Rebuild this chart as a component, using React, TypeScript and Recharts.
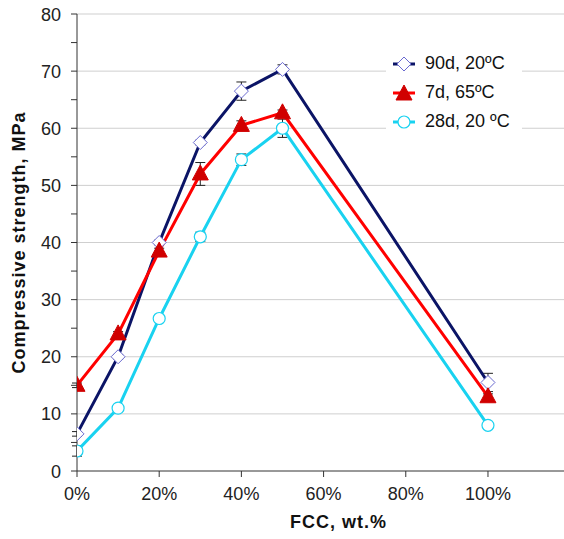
import React from "react";
import { LineChart, Line, XAxis, YAxis, ReferenceLine, ErrorBar, Legend, Label } from "recharts";

const fcc = [0, 0.1, 0.2, 0.3, 0.4, 0.5, 1.0];
const d90 = [6.5, 20, 40, 57.5, 66.5, 70.3, 15.5];
const d90Err = [0.4, 0.4, 0.4, 0.4, 1.6, 0.8, 1.6];
const d7 = [15, 24, 38.5, 52, 60.5, 62.7, 13];
const d7Err = [0.4, 0.4, 0.5, 2, 0.8, 0.5, 0.5];
const d28 = [3.5, 11, 26.7, 41, 54.5, 60, 8];
const d28Err = [0.9, 0.3, 0.3, 0.8, 1, 1.6, 0.3];
const xTicks = [0, 0.2, 0.4, 0.6, 0.8, 1.0];
const yTicks = [0, 5, 10, 15, 20, 25, 30, 35, 40, 45, 50, 55, 60, 65, 70, 75, 80];
const gridValues = [10, 20, 30, 40, 50, 60, 70, 80];
const seriesNames = ["90d, 20ºC", "7d, 65ºC", "28d, 20 ºC"];

const data = fcc.map((x, i) => ({
  x,
  d90: d90[i],
  d90Err: d90Err[i],
  d7: d7[i],
  d7Err: d7Err[i],
  d28: d28[i],
  d28Err: d28Err[i],
}));

const NAVY = "#0b1466";
const RED = "#ff0000";
const CYAN = "#19d2f0";
const FONT = "Liberation Sans, Arial, sans-serif";

const Diamond = (props: any) => {
  const { cx, cy } = props;
  if (cx == null || cy == null) return null;
  const s = 7;
  return (
    <polygon
      points={`${cx},${cy - s} ${cx + s},${cy} ${cx},${cy + s} ${cx - s},${cy}`}
      fill="#ffffff"
      stroke="#6a6ad0"
      strokeWidth={1}
    />
  );
};

const Triangle = (props: any) => {
  const { cx, cy } = props;
  if (cx == null || cy == null) return null;
  return (
    <polygon
      points={`${cx},${cy - 9} ${cx + 8},${cy + 6} ${cx - 8},${cy + 6}`}
      fill="#d00000"
      stroke="#d00000"
      strokeWidth={1}
    />
  );
};

const Circle = (props: any) => {
  const { cx, cy } = props;
  if (cx == null || cy == null) return null;
  return <circle cx={cx} cy={cy} r={6} fill="#ffffff" stroke={CYAN} strokeWidth={1.2} />;
};

const YTick = (props: any) => {
  const { x, y, payload } = props;
  if (payload.value % 10 !== 0) return null;
  return (
    <text x={x - 8} y={y} dy={6.5} textAnchor="end" fontSize={18} fill="#222" fontFamily={FONT}>
      {payload.value}
    </text>
  );
};

const legendMarkers = [
  (cx: number, cy: number) => <Diamond cx={cx} cy={cy} />,
  (cx: number, cy: number) => <Triangle cx={cx} cy={cy + 1} />,
  (cx: number, cy: number) => <Circle cx={cx} cy={cy} />,
];
const legendColors = [NAVY, RED, CYAN];

const LegendBox = () => (
  <div style={{ background: "#fff", padding: "3px 0", fontFamily: FONT, fontSize: 18, color: "#111" }}>
    {seriesNames.map((n, i) => (
      <div key={n} style={{ display: "flex", alignItems: "center", height: 29 }}>
        <svg width={34} height={20} style={{ marginLeft: 5 }}>
          <line x1={2} x2={24} y1={10} y2={10} stroke={legendColors[i]} strokeWidth={3} />
          {legendMarkers[i](13, 10)}
        </svg>
        <span style={{ marginLeft: 0 }}>{n}</span>
      </div>
    ))}
  </div>
);

export default function App() {
  return (
    <div style={{ position: "absolute", left: 0, top: 0, width: 564, height: 539, background: "#fff" }}>
      <LineChart width={564} height={539} data={data} margin={{ top: 14, right: 0, bottom: 0, left: 0 }}>
        {gridValues.map((v) => (
          <ReferenceLine key={v} y={v} stroke="#cfcfcf" strokeWidth={1} />
        ))}
        <XAxis
          dataKey="x"
          type="number"
          domain={[0, 1.185]}
          allowDataOverflow
          ticks={xTicks}
          tickFormatter={(v: number) => `${Math.round(v * 100)}%`}
          tick={{ fontSize: 18, fill: "#222", fontFamily: FONT }}
          stroke="#333"
          tickSize={6}
          tickMargin={10}
          height={68}
        >
          <Label
            value="FCC, wt.%"
            position="insideBottom"
            offset={11}
            dx={18}
            style={{ fontSize: 18, fontWeight: "bold", fill: "#111", fontFamily: FONT, letterSpacing: 1 }}
          />
        </XAxis>
        <YAxis
          type="number"
          domain={[0, 80]}
          ticks={yTicks}
          interval={0}
          tick={<YTick />}
          stroke="#333"
          tickSize={6}
          width={77}
        >
          <Label
            value="Compressive strength, MPa"
            angle={-90}
            position="insideLeft"
            offset={19}
            style={{ textAnchor: "middle", fontSize: 18, fontWeight: "bold", fill: "#111", fontFamily: FONT, letterSpacing: 1 }}
          />
        </YAxis>
        <Legend
          layout="horizontal"
          verticalAlign="middle"
          align="center"
          content={<LegendBox />}
          wrapperStyle={{ position: "absolute", top: 46, left: 386, width: 136 }}
        />
        <Line
          dataKey="d90"
          stroke={NAVY}
          strokeWidth={3}
          dot={<Diamond />}
          activeDot={false}
          isAnimationActive={false}
        >
          <ErrorBar dataKey="d90Err" direction="y" width={5} stroke="#222" strokeWidth={1} />
        </Line>
        <Line
          dataKey="d28"
          stroke={CYAN}
          strokeWidth={3}
          dot={<Circle />}
          activeDot={false}
          isAnimationActive={false}
        >
          <ErrorBar dataKey="d28Err" direction="y" width={5} stroke="#222" strokeWidth={1} />
        </Line>
        <Line
          dataKey="d7"
          stroke={RED}
          strokeWidth={3}
          dot={<Triangle />}
          activeDot={false}
          isAnimationActive={false}
        >
          <ErrorBar dataKey="d7Err" direction="y" width={5} stroke="#222" strokeWidth={1} />
        </Line>
      </LineChart>
    </div>
  );
}
